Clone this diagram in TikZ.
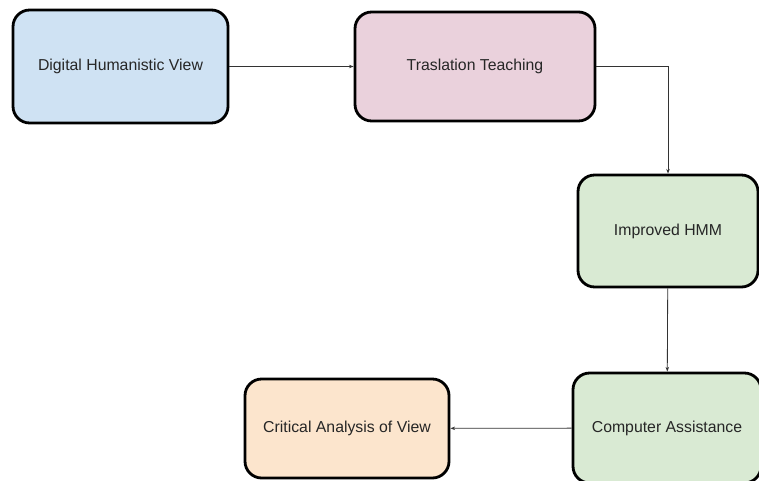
\documentclass[tikz,border=0pt]{standalone}
\usepackage{fontspec}
\setmainfont{Liberation Sans}
\usetikzlibrary{arrows.meta}

\definecolor{boxblue}{HTML}{CFE2F3}
\definecolor{boxpink}{HTML}{EAD1DC}
\definecolor{boxgreen}{HTML}{D9EAD3}
\definecolor{boxorange}{HTML}{FCE5CD}

\begin{document}
\begin{tikzpicture}[x=0.03cm, y=-0.03cm,
	stage/.style={draw=black, line width=2.4pt, rounded corners=0.5cm, font=\fontsize{13.5}{16}\selectfont, text=black!85},
	flow/.style={-{Stealth[length=4pt, width=3pt]}, line width=0.7pt, black!80}]
	\useasboundingbox (0, 0) rectangle (759, 481);
	\node[stage, fill=boxblue, minimum width=6.45cm, minimum height=3.39cm] (dhv) at (120.5, 66.5) {Digital Humanistic View};
	\node[stage, fill=boxpink, minimum width=7.2cm, minimum height=3.27cm] (tt) at (475, 66.5) {Traslation Teaching};
	\node[stage, fill=boxgreen, minimum width=5.4cm, minimum height=3.36cm] (hmm) at (668, 231) {Improved HMM};
	\node[stage, fill=boxgreen, minimum width=5.64cm, minimum height=3.3cm] (ca) at (667, 428) {Computer Assistance};
	\node[stage, fill=boxorange, minimum width=6.12cm, minimum height=2.97cm] (cav) at (347, 428.5) {Critical Analysis of View};
	\draw[flow] (dhv) -- (tt);
	\draw[flow] (tt.east) -| (hmm.north);
	\draw[flow] (hmm) -- (ca);
	\draw[flow] (ca) -- (cav);
\end{tikzpicture}
\end{document}
